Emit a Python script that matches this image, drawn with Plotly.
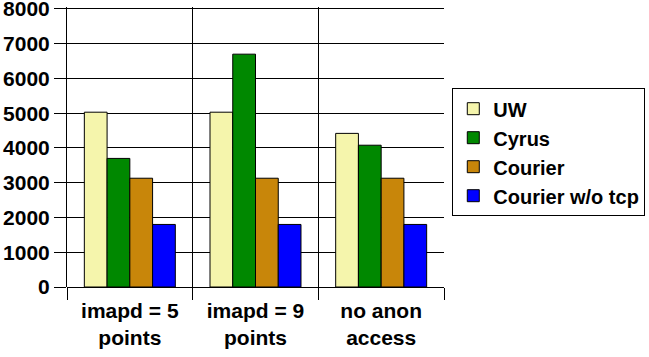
import plotly.graph_objects as go

categories = ["imapd = 5<br>points", "imapd = 9<br>points", "no anon<br>access"]
series_names = ["UW", "Cyrus", "Courier", "Courier w/o tcp"]
uw = [5030, 5030, 4420]
cyrus = [3700, 6700, 4080]
courier = [3130, 3130, 3130]
courier_notcp = [1800, 1800, 1800]
y_ticks = [0, 1000, 2000, 3000, 4000, 5000, 6000, 7000, 8000]

colors = ["#F5F5AC", "#008800", "#C8860A", "#0000FF"]
values = [uw, cyrus, courier, courier_notcp]

fig = go.Figure()
for name, vals, col in zip(series_names, values, colors):
    fig.add_trace(go.Bar(
        x=categories, y=vals, name=name,
        marker=dict(color=col, line=dict(color="black", width=1)),
    ))

font_fam = "Liberation Sans, Arial, sans-serif"
fig.update_layout(
    width=649, height=357,
    margin=dict(l=67, r=205, t=7, b=70, autoexpand=False),
    paper_bgcolor="white", plot_bgcolor="white",
    barmode="group", bargap=0.276, bargroupgap=0,
    font=dict(family=font_fam, size=21, color="black", weight="bold"),
    showlegend=True,
    legend=dict(
        x=1.022, y=0.71, xanchor="left", yanchor="top",
        bordercolor="black", borderwidth=1, bgcolor="white",
        font=dict(family=font_fam, size=20, color="black", weight="bold"),
        itemwidth=30,
    ),
    xaxis=dict(
        tickson="boundaries", showgrid=True, gridcolor="black", gridwidth=1,
        ticks="outside", ticklen=12, tickcolor="black", tickwidth=1,
        tickfont=dict(family=font_fam, size=21, weight="bold"),
        ticklabelstandoff=9,
        showline=False, automargin=False,
    ),
    yaxis=dict(
        range=[0, 8057], tickvals=y_ticks,
        showgrid=True, gridcolor="black", gridwidth=1,
        zeroline=True, zerolinecolor="black", zerolinewidth=1,
        ticks="outside", ticklen=12, tickcolor="black", tickwidth=1,
        tickfont=dict(family=font_fam, size=21, weight="bold"),
        showline=True, linecolor="black", linewidth=1, automargin=False,
        ticklabeloverflow="allow",
    ),
)

fig.write_html("out.html", config={"displayModeBar": False},
               post_script="document.body.style.margin='0';")
